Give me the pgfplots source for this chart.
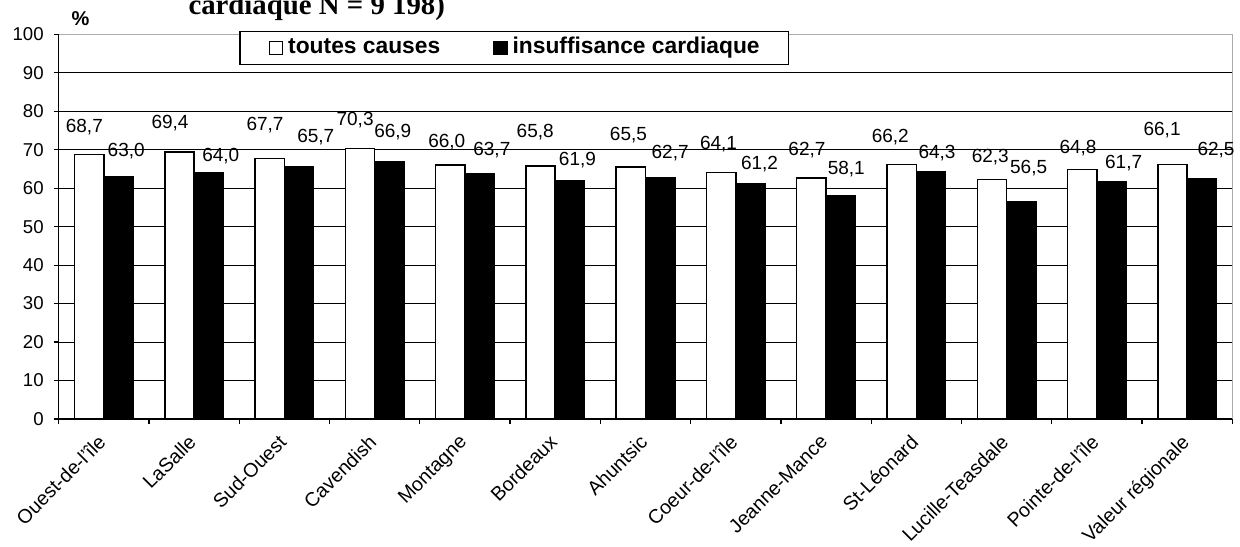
\documentclass[border=0pt]{standalone}
\usepackage{fontspec}
\setmainfont{Liberation Sans}
\newfontfamily\titlefont{Liberation Serif}
\usepackage{pgfplots}
\usepackage{pgfplotstable}
\pgfplotsset{compat=1.18}

% bar values
\pgfplotstableread{
x white black
0 68.7 63.0
1 69.4 64.0
2 67.7 65.7
3 70.3 66.9
4 66.0 63.7
5 65.8 61.9
6 65.5 62.7
7 64.1 61.2
8 62.7 58.1
9 66.2 64.3
10 62.3 56.5
11 64.8 61.7
12 66.1 62.5
}\bars

% label positions (as placed in the original chart)
\pgfplotstableread{
lx ly v
-0.216 75.9 68.7
0.733 76.8 69.4
1.786 76.4 67.7
2.783 77.7 70.3
3.799 72.0 66.0
4.778 74.6 65.8
5.811 73.8 65.5
6.809 71.4 64.1
7.788 69.9 62.7
8.711 73.3 66.2
9.819 68.0 62.3
10.791 70.3 64.8
11.722 75.1 66.1
}\whitelab

\pgfplotstableread{
lx ly v
0.248 69.7 63.0
1.295 68.3 64.0
2.348 73.3 65.7
3.201 74.6 66.9
4.298 69.9 63.7
5.246 67.3 61.9
6.273 69.2 62.7
7.263 66.2 61.2
8.224 64.9 58.1
9.229 69.2 64.3
10.244 65.1 56.5
11.296 66.4 61.7
12.320 69.9 62.5
}\blacklab

\begin{document}
\begin{tikzpicture}
\begin{axis}[
  name=ax,
  scale only axis,
  width=586.8pt, height=192.35pt,
  xmin=-0.5, xmax=12.5,
  ymin=0, ymax=100,
  clip=false,
  axis line style={draw=none},
  tick pos=left,
  tick align=outside,
  ytick={0,10,...,100},
  xtick={0,...,12},
  xticklabels={Ouest-de-l'île,LaSalle,Sud-Ouest,Cavendish,Montagne,Bordeaux,Ahuntsic,Coeur-de-l'île,Jeanne-Mance,St-Léonard,Lucille-Teasdale,Pointe-de-l'île,Valeur régionale},
  minor xtick={-0.5,0.5,...,12.5},
  major x tick style={draw=none},
  minor x tick style={black, line width=0.6pt},
  major y tick style={black, line width=0.6pt},
  major tick length=2.5pt,
  minor tick length=2.5pt,
  ymajorgrids,
  major grid style={black, line width=0.5pt},
  /pgf/number format/assume math mode=true,
  yticklabel style={font=\fontsize{9.3}{10}\selectfont, xshift=-1.5pt},
  xticklabel style={font=\fontsize{9.8}{11}\selectfont, xshift=-3.5pt, yshift=-4.5pt, rotate=45, anchor=north east, inner sep=0pt},
  legend columns=2,
  legend style={at={(axis description cs:0.1539,1.0086)}, anchor=north west,
    draw=black, line width=0.6pt, fill=white,
    font=\fontsize{11.4}{13}\selectfont\bfseries,
    inner xsep=14.35pt, inner ysep=2.85pt,
    nodes={inner sep=0pt, text height=8.2pt, text depth=2.4pt},
    /tikz/every odd column/.append style={column sep=2.5pt},
    /tikz/every even column/.append style={column sep=26.35pt}},
]
\addplot[ybar, bar width=0.325, bar shift=-0.1625, draw=black, fill=white, line width=0.75pt,
  legend image code/.code={\draw[black, fill=white, line width=0.6pt] (0pt,-3.35pt) rectangle (6.7pt,3.35pt);}]
  table[x=x, y=white] {\bars};
\addlegendentry{toutes causes}
\addplot[ybar, bar width=0.325, bar shift=0.1625, draw=black, fill=black, line width=0.75pt,
  legend image code/.code={\draw[black, fill=black, line width=0.6pt] (0pt,-3.35pt) rectangle (6.7pt,3.35pt);}]
  table[x=x, y=black] {\bars};
\addlegendentry{insuffisance cardiaque}

\addplot[draw=none, mark=none, forget plot, point meta=explicit,
  nodes near coords={\pgfmathprintnumber[fixed, fixed zerofill, precision=1, use comma]{\pgfplotspointmeta}},
  every node near coord/.append style={anchor=center, inner sep=0pt, font=\fontsize{9.5}{11}\selectfont}]
  table[x=lx, y=ly, meta=v] {\whitelab};
\addplot[draw=none, mark=none, forget plot, point meta=explicit,
  nodes near coords={\pgfmathprintnumber[fixed, fixed zerofill, precision=1, use comma]{\pgfplotspointmeta}},
  every node near coord/.append style={anchor=center, inner sep=0pt, font=\fontsize{9.5}{11}\selectfont}]
  table[x=lx, y=ly, meta=v] {\blacklab};

\draw[gray!65, line width=0.6pt] (rel axis cs:0,1) -- (rel axis cs:1,1) -- (rel axis cs:1,0);
\draw[black, line width=0.6pt] (rel axis cs:0,1) -- (rel axis cs:0,0) -- (rel axis cs:1,0);
\end{axis}

\node[anchor=base, font=\titlefont\bfseries\fontsize{14.4}{16}\selectfont]
  at ([xshift=129pt, yshift=9.65pt]ax.north west) {cardiaque N = 9 198)};
\node[font=\bfseries\fontsize{10}{12}\selectfont]
  at ([xshift=10.9pt, yshift=7.9pt]ax.north west) {\%};

\pgfresetboundingbox
\useasboundingbox ([xshift=-29.35pt, yshift=-63.5pt]ax.south west) rectangle ([xshift=3.85pt, yshift=17.15pt]ax.north east);
\end{tikzpicture}
\end{document}
